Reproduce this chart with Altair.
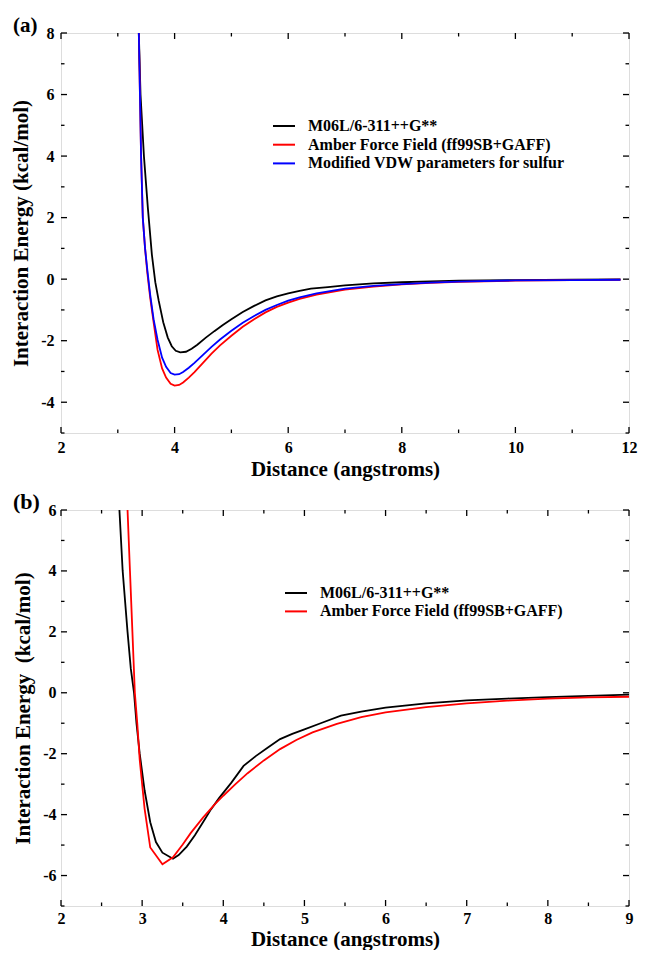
import altair as alt
import pandas as pd

FONT = "Liberation Serif"

# ---------------- Panel (a) data ----------------
a_names = ["M06L/6-311++G**", "Amber Force Field (ff99SB+GAFF)", "Modified VDW parameters for sulfur"]
a_colors = ["#000000", "#ff0000", "#0000ff"]

a_m06l_x = [3.37, 3.40, 3.46, 3.53, 3.60, 3.66, 3.72, 3.80, 3.88, 3.95, 4.02, 4.10, 4.20, 4.30, 4.40,
            4.55, 4.70, 4.85, 5.00, 5.20, 5.40, 5.60, 5.80, 6.00, 6.20, 6.40, 6.70, 7.00, 7.50, 8.00,
            8.50, 9.00, 10.0, 11.0, 11.85]
a_m06l_y = [8.0, 6.0, 4.0, 2.3, 0.8, -0.1, -0.7, -1.4, -1.9, -2.18, -2.33, -2.38, -2.36, -2.26, -2.13,
            -1.90, -1.69, -1.49, -1.30, -1.07, -0.87, -0.69, -0.56, -0.46, -0.38, -0.31, -0.26, -0.20,
            -0.14, -0.10, -0.07, -0.05, -0.03, -0.02, -0.01]

a_amber_x = [3.37, 3.39, 3.41, 3.44, 3.48, 3.52, 3.57, 3.63, 3.70, 3.78, 3.85, 3.93, 4.00, 4.08, 4.15,
             4.25, 4.35, 4.50, 4.65, 4.80, 5.00, 5.20, 5.40, 5.60, 5.80, 6.00, 6.20, 6.50, 7.00, 7.50,
             8.00, 8.50, 9.00, 10.0, 11.0, 11.85]
a_amber_y = [8.0, 6.0, 4.0, 2.0, 1.0, 0.2, -0.6, -1.4, -2.3, -2.9, -3.2, -3.40, -3.46, -3.44, -3.36,
             -3.20, -3.02, -2.72, -2.42, -2.15, -1.84, -1.55, -1.30, -1.08, -0.90, -0.76, -0.64, -0.50,
             -0.34, -0.24, -0.17, -0.12, -0.09, -0.05, -0.03, -0.02]

a_vdw_x = [3.37, 3.39, 3.41, 3.44, 3.48, 3.52, 3.57, 3.63, 3.70, 3.78, 3.85, 3.93, 4.00, 4.08, 4.15,
           4.25, 4.35, 4.50, 4.65, 4.80, 5.00, 5.20, 5.40, 5.60, 5.80, 6.00, 6.20, 6.50, 7.00, 7.50,
           8.00, 8.50, 9.00, 10.0, 11.0, 11.85]
a_vdw_y = [8.0, 6.0, 4.0, 2.0, 1.0, 0.3, -0.5, -1.3, -1.97, -2.55, -2.85, -3.05, -3.10, -3.09, -3.02,
           -2.88, -2.72, -2.46, -2.20, -1.96, -1.68, -1.42, -1.20, -1.00, -0.84, -0.70, -0.59, -0.46,
           -0.31, -0.22, -0.16, -0.11, -0.08, -0.04, -0.03, -0.02]

a_x_major = [2, 4, 6, 8, 10, 12]
a_x_minor = [3, 5, 7, 9, 11]
a_y_major = [-4, -2, 0, 2, 4, 6, 8]
a_y_minor = [-5, -3, -1, 1, 3, 5, 7]

# ---------------- Panel (b) data ----------------
b_names = ["M06L/6-311++G**", "Amber Force Field (ff99SB+GAFF)"]
b_colors = ["#000000", "#ff0000"]

b_m06l_x = [2.72, 2.76, 2.82, 2.86, 2.90, 2.93, 2.97, 3.03, 3.10, 3.17, 3.25, 3.38, 3.45, 3.55, 3.65,
            3.75, 3.85, 3.95, 4.10, 4.25, 4.40, 4.55, 4.70, 4.85, 5.00, 5.20, 5.45, 5.70, 6.00, 6.50,
            7.00, 7.50, 8.00, 8.50, 9.00]
b_m06l_y = [6.0, 4.0, 2.0, 0.8, 0.0, -1.0, -2.0, -3.2, -4.25, -4.9, -5.25, -5.45, -5.33, -5.05, -4.68,
            -4.25, -3.82, -3.45, -2.95, -2.40, -2.08, -1.80, -1.52, -1.35, -1.20, -1.00, -0.75, -0.62,
            -0.49, -0.35, -0.25, -0.19, -0.14, -0.10, -0.06]

b_amber_x = [2.82, 2.85, 2.88, 2.91, 2.94, 2.97, 3.03, 3.10, 3.25, 3.38, 3.50, 3.60, 3.75, 3.90, 4.00,
             4.15, 4.30, 4.50, 4.70, 4.90, 5.10, 5.40, 5.70, 6.00, 6.50, 7.00, 7.50, 8.00, 8.50, 9.00]
b_amber_y = [6.0, 4.0, 2.0, 0.0, -1.0, -2.2, -3.8, -5.08, -5.63, -5.40, -4.98, -4.60, -4.10, -3.65, -3.38,
             -3.00, -2.64, -2.22, -1.85, -1.55, -1.30, -1.02, -0.80, -0.64, -0.47, -0.35, -0.26, -0.19,
             -0.15, -0.13]

b_x_major = [2, 3, 4, 5, 6, 7, 8, 9]
b_x_minor = [2.5, 3.5, 4.5, 5.5, 6.5, 7.5, 8.5]
b_y_major = [-6, -4, -2, 0, 2, 4, 6]
b_y_minor = [-7, -5, -3, -1, 1, 3, 5]

X_TITLE = "Distance (angstroms)"
A_Y_TITLE = "Interaction Energy (kcal/mol)"
B_Y_TITLE = "Interaction Energy\u00a0 (kcal/mol)"

MAJ = 6
MIN = 3.5


def panel(series, xdom, ydom, xmaj, xmin, ymaj, ymin, W, H, ytitle, tag,
          tag_x, tag_y, tag_size, leg_x0, leg_x1, leg_tx, leg_y0, leg_dy,
          xlab_pad, ylab_pad, xtitle_pad):
    xscale = alt.Scale(domain=xdom, nice=False, zero=False)
    yscale = alt.Scale(domain=ydom, nice=False, zero=False)
    xaxis = alt.Axis(values=xmaj, ticks=False, grid=False, domain=False,
                     labelFont=FONT, labelFontWeight="bold", labelFontSize=16, labelColor="black",
                     labelPadding=xlab_pad, labelFlush=False, labelOverlap=False,
                     labelExpr="datum.value + ''",
                     title=X_TITLE, titleFont=FONT, titleFontSize=21, titleFontWeight="bold",
                     titleColor="black", titlePadding=xtitle_pad)
    yaxis = alt.Axis(values=ymaj, ticks=False, grid=False, domain=False,
                     labelFont=FONT, labelFontWeight="bold", labelFontSize=16, labelColor="black",
                     labelPadding=ylab_pad, labelFlush=False, labelOverlap=False,
                     labelExpr="datum.value + ''",
                     title=ytitle, titleFont=FONT, titleFontSize=21, titleFontWeight="bold",
                     titleColor="black", titlePadding=9)
    layers = []
    for name, color, xs, ys in series:
        df = pd.DataFrame({"x": xs, "y": ys, "series": name})
        layers.append(
            alt.Chart(df).mark_line(color=color, strokeWidth=1.8).encode(
                x=alt.X("x:Q", scale=xscale, axis=xaxis),
                y=alt.Y("y:Q", scale=yscale, axis=yaxis),
            )
        )
    # inward ticks on all four sides
    for vals, ln in ((xmaj, MAJ), (xmin, MIN)):
        d = pd.DataFrame({"v": vals})
        layers.append(alt.Chart(d).mark_rule(color="black", strokeWidth=1.3).encode(
            x=alt.X("v:Q", axis=xaxis), y=alt.value(H), y2=alt.value(H - ln)))
        layers.append(alt.Chart(d).mark_rule(color="black", strokeWidth=1.3).encode(
            x=alt.X("v:Q", axis=xaxis), y=alt.value(0), y2=alt.value(ln)))
    for vals, ln in ((ymaj, MAJ), (ymin, MIN)):
        d = pd.DataFrame({"v": vals})
        layers.append(alt.Chart(d).mark_rule(color="black", strokeWidth=1.3).encode(
            y=alt.Y("v:Q", axis=yaxis), x=alt.value(0), x2=alt.value(ln)))
        layers.append(alt.Chart(d).mark_rule(color="black", strokeWidth=1.3).encode(
            y=alt.Y("v:Q", axis=yaxis), x=alt.value(W), x2=alt.value(W - ln)))
    # legend
    for i, (name, color, _, _) in enumerate(series):
        ly = leg_y0 + i * leg_dy
        d = pd.DataFrame({"label": [name]})
        layers.append(alt.Chart(d).mark_rule(color=color, strokeWidth=2).encode(
            x=alt.value(leg_x0), x2=alt.value(leg_x1), y=alt.value(ly)))
        layers.append(alt.Chart(d).mark_text(font=FONT, fontWeight="bold", fontSize=16,
                                             align="left", baseline="middle", color="black").encode(
            x=alt.value(leg_tx), y=alt.value(ly), text="label:N"))
    # panel tag
    d = pd.DataFrame({"t": [tag]})
    layers.append(alt.Chart(d).mark_text(font=FONT, fontWeight="bold", fontSize=tag_size,
                                         align="left", baseline="top", color="black").encode(
        x=alt.value(tag_x), y=alt.value(tag_y), text="t:N"))
    return alt.layer(*layers).properties(width=W, height=H)


top = panel(
    [(a_names[0], a_colors[0], a_m06l_x, a_m06l_y),
     (a_names[1], a_colors[1], a_amber_x, a_amber_y),
     (a_names[2], a_colors[2], a_vdw_x, a_vdw_y)],
    [2, 12], [-5, 8], a_x_major, a_x_minor, a_y_major, a_y_minor, 568, 400, A_Y_TITLE,
    "(a)", -48, -18, 21, 212, 234, 247, 93, 18.7, 6, 7, 3)

bottom = panel(
    [(b_names[0], b_colors[0], b_m06l_x, b_m06l_y),
     (b_names[1], b_colors[1], b_amber_x, b_amber_y)],
    [2, 9], [-7, 6], b_x_major, b_x_minor, b_y_major, b_y_minor, 568, 396, B_Y_TITLE,
    "(b)", -48, -18, 22, 224, 246, 259, 83, 18.4, 4, 5, 2)

chart = alt.vconcat(top, bottom, spacing=10).properties(
    padding={"left": 2, "top": 6, "right": 0, "bottom": 0}
).configure_view(stroke="black", strokeWidth=1.5).configure(background="white")

chart.save("out.html", embed_options={"renderer": "svg", "actions": False})
